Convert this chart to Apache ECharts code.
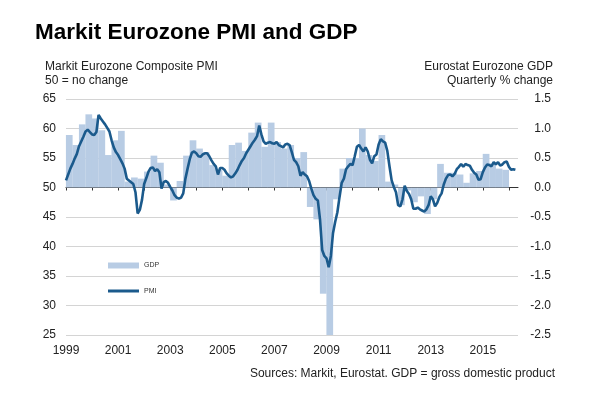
<!DOCTYPE html>
<html>
<head>
<meta charset="utf-8">
<script src="https://cdn.jsdelivr.net/npm/echarts@6/dist/echarts.min.js"></script>
<style>html,body{margin:0;padding:0;background:#fff}#c{width:600px;height:407px}</style>
</head>
<body>
<div id="c"></div>
<script>
// Monthly PMI, Jan 1999 .. Apr 2016
const pmiStartYear = 1999;
const pmi = [
51.2,52.2,53.2,54.0,54.9,55.7,57.0,57.8,58.6,59.5,59.8,59.4,
59.0,58.9,59.4,62.3,61.7,61.2,60.7,60.1,59.5,58.0,56.8,56.0,
55.5,54.8,54.1,53.2,51.5,51.2,50.9,50.6,49.2,45.6,46.2,47.9,
50.6,51.6,52.7,53.3,53.4,52.8,53.1,52.6,49.8,50.9,51.1,50.8,
50.1,49.5,48.7,48.3,48.1,48.3,49.0,51.5,53.2,54.8,55.9,56.1,
55.8,55.3,55.2,55.6,55.8,55.8,55.3,54.6,54.0,53.6,52.2,53.3,
53.3,53.0,52.4,52.0,51.7,51.9,52.4,53.0,53.8,54.5,55.0,55.8,
56.4,57.0,57.6,58.1,58.7,60.5,59.0,57.8,57.4,57.6,57.7,57.5,
57.4,57.7,57.2,57.0,56.8,57.3,57.4,57.2,56.0,54.7,54.3,53.6,
52.0,52.6,52.2,51.9,51.1,49.8,48.7,48.1,47.8,44.6,39.4,38.4,
38.0,36.5,38.4,42.3,44.2,45.8,48.4,50.8,51.5,53.1,53.6,54.0,
53.8,55.3,56.9,57.2,56.6,56.1,56.8,56.1,54.7,54.1,55.3,55.6,
57.3,58.2,57.8,57.6,56.2,53.6,51.2,50.1,49.2,47.0,46.8,48.0,
50.3,49.4,48.9,48.0,46.4,46.4,46.6,46.3,46.1,45.9,46.3,47.0,
48.5,48.0,46.8,47.4,48.4,49.0,50.5,51.5,52.1,52.2,51.9,52.3,
53.1,53.5,54.0,53.5,54.0,53.8,53.7,53.0,52.5,52.2,51.3,51.4,
52.6,53.4,53.9,53.8,53.6,54.3,53.9,54.3,53.7,53.9,54.3,54.4,
53.5,53.0,53.1,53.0
];
// Quarterly GDP % change, 1999Q1 .. 2015Q4
const gdpStartYear = 1999;
const gdp = [
0.89,0.72,1.07,1.24,
1.17,0.97,0.55,0.80,
0.96,0.10,0.17,0.15,
0.27,0.54,0.42,0.05,
-0.22,0.11,0.54,0.80,
0.66,0.60,0.38,0.30,
0.20,0.72,0.76,0.62,
0.93,1.10,0.69,1.10,
0.77,0.66,0.72,0.50,
0.60,-0.33,-0.54,-1.80,
-2.60,-0.20,0.32,0.50,
0.50,1.00,0.55,0.45,
0.89,0.10,0.05,-0.30,
-0.05,-0.25,-0.15,-0.45,
-0.20,0.40,0.25,0.25,
0.22,0.08,0.24,0.28,
0.57,0.41,0.32,0.30
];
const yearTicks = [1999,2000,2001,2002,2003,2004,2005,2006,2007,2008,2009,2010,2011,2012,2013,2014,2015,2016];
const yearLabels = [1999,2001,2003,2005,2007,2009,2011,2013,2015];

const pmiData = pmi.map((v, i) => [pmiStartYear + i / 12, v]);
const gdpData = gdp.map((v, i) => [gdpStartYear + (i + 0.5) / 4, v]);

const FONT = '"Liberation Sans", Arial, sans-serif';
const LINE = '#1b5a8c';
const BAR = '#b8cce4';
function txt(text, x, y, align, size, weight) {
  return {type: 'text', x: x, y: y, silent: true,
    style: {text: text, align: align, verticalAlign: 'middle', fill: weight ? '#000' : '#222',
      fontSize: size, fontWeight: weight || 'normal', fontFamily: FONT}};
}
const chart = echarts.init(document.getElementById('c'), null, {renderer: 'canvas'});
chart.setOption({
  animation: false,
  backgroundColor: '#fff',
  textStyle: {fontFamily: FONT},
  graphic: [
    txt('Markit Eurozone PMI and GDP', 35, 33, 'left', 22.5, 'bold'),
    txt('Markit Eurozone Composite PMI', 45, 67, 'left', 12),
    txt('50 = no change', 45, 81, 'left', 12),
    txt('Eurostat Eurozone GDP', 553, 67, 'right', 12),
    txt('Quarterly % change', 553, 81, 'right', 12),
    txt('Sources: Markit, Eurostat. GDP = gross domestic product', 555, 374, 'right', 12)
  ],
  legend: [
    {orient: 'vertical', left: 103, top: 257, itemWidth: 31, itemHeight: 6,
     textStyle: {fontSize: 7, color: '#333', fontFamily: FONT},
     data: [{name: 'GDP', icon: 'rect'}]},
    {orient: 'vertical', left: 103, top: 282.5, itemWidth: 31, itemHeight: 3,
     textStyle: {fontSize: 7, color: '#333', fontFamily: FONT},
     data: [{name: 'PMI', icon: 'rect', itemStyle: {color: LINE}}]}
  ],
  grid: {left: 66, right: 82, top: 99, bottom: 72},
  xAxis: {
    type: 'value', min: 1999, max: 2016.35,
    axisLine: {show: true, lineStyle: {color: '#333', width: 1}},
    axisTick: {show: true, length: 3, customValues: yearTicks, lineStyle: {color: '#333'}},
    axisLabel: {customValues: yearLabels, margin: 10, fontSize: 12, color: '#222', fontFamily: FONT,
      formatter: v => String(v)},
    splitLine: {show: false}
  },
  yAxis: [
    {type: 'value', min: 25, max: 65, interval: 5, position: 'left',
     axisLine: {show: false}, axisTick: {show: false},
     axisLabel: {margin: 10, fontSize: 12, color: '#222', fontFamily: FONT},
     splitLine: {show: true, lineStyle: {color: '#d4d4d4', width: 1}}},
    {type: 'value', min: -2.5, max: 1.5, interval: 0.5, position: 'right',
     axisLine: {show: false}, axisTick: {show: false},
     axisLabel: {margin: 33, align: 'right', fontSize: 12, color: '#222', fontFamily: FONT,
       formatter: v => v.toFixed(1)},
     splitLine: {show: false}}
  ],
  series: [
    {name: 'GDP', type: 'bar', yAxisIndex: 1, data: gdpData, barWidth: 6.7,
     itemStyle: {color: BAR}, clip: true, z: 1},
    {name: 'PMI', type: 'line', yAxisIndex: 0, data: pmiData, symbol: 'none', showSymbol: false,
     lineStyle: {color: LINE, width: 2.6}, itemStyle: {color: LINE}, z: 3}
  ]
});
</script>
</body>
</html>
